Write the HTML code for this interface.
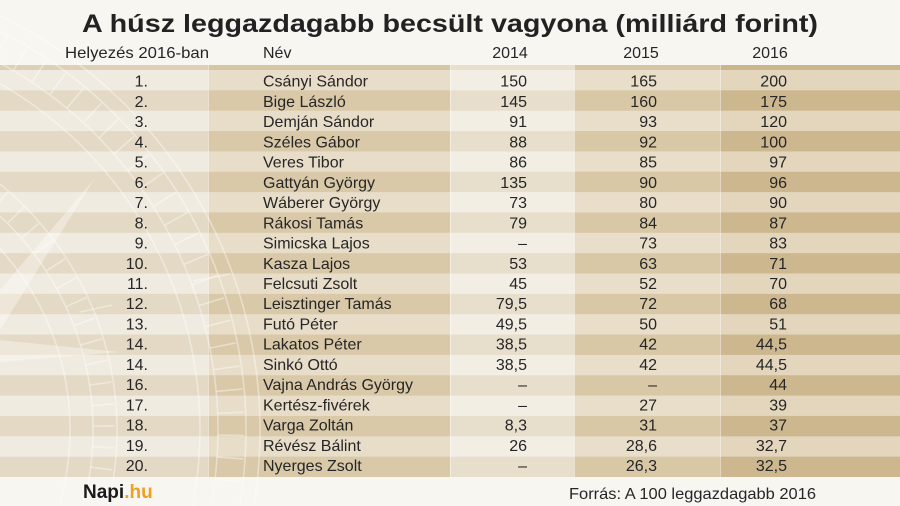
<!DOCTYPE html>
<html><head><meta charset="utf-8"><style>
html,body{margin:0;padding:0;background:#f7f6f1;width:900px;height:506px;overflow:hidden;}
svg{display:block;overflow:hidden;}
text{font-family:"Liberation Sans",sans-serif;fill:#262626;}
</style></head><body>
<svg width="900" height="506" viewBox="0 0 900 506" xmlns="http://www.w3.org/2000/svg">
<defs>
<pattern id="p1" patternUnits="userSpaceOnUse" x="0" y="70" width="900" height="40.7"><rect width="900" height="20.35" fill="#f0ebe0"/><rect y="20.35" width="900" height="20.35" fill="#e3d9c5"/></pattern>
<pattern id="p2" patternUnits="userSpaceOnUse" x="0" y="70" width="900" height="40.7"><rect width="900" height="20.35" fill="#e8ddc9"/><rect y="20.35" width="900" height="20.35" fill="#d9c9a8"/></pattern>
<pattern id="p3" patternUnits="userSpaceOnUse" x="0" y="70" width="900" height="40.7"><rect width="900" height="20.35" fill="#f3eee4"/><rect y="20.35" width="900" height="20.35" fill="#e7decc"/></pattern>
<pattern id="p4" patternUnits="userSpaceOnUse" x="0" y="70" width="900" height="40.7"><rect width="900" height="20.35" fill="#e9deca"/><rect y="20.35" width="900" height="20.35" fill="#d8c8a6"/></pattern>
<pattern id="p5" patternUnits="userSpaceOnUse" x="0" y="70" width="900" height="40.7"><rect width="900" height="20.35" fill="#e3d6bd"/><rect y="20.35" width="900" height="20.35" fill="#ccb78f"/></pattern>
</defs>
<rect x="0" y="0" width="900" height="506" fill="#f7f6f1"/>
<!-- top strip -->
<rect x="0" y="65" width="208" height="5" fill="#ddd0b6"/>
<rect x="208" y="65" width="242" height="5" fill="#d5c6a4"/>
<rect x="450" y="65" width="124" height="5" fill="#e8dfcd"/>
<rect x="574" y="65" width="146" height="5" fill="#d5c5a3"/>
<rect x="720" y="65" width="180" height="5" fill="#cab58d"/>
<!-- row bands -->
<rect x="0" y="70" width="208" height="407" fill="url(#p1)"/>
<rect x="208" y="70" width="242" height="407" fill="url(#p2)"/>
<rect x="450" y="70" width="124" height="407" fill="url(#p3)"/>
<rect x="574" y="70" width="146" height="407" fill="url(#p4)"/>
<rect x="720" y="70" width="180" height="407" fill="url(#p5)"/>
<!-- column separators -->
<g stroke="#ffffff" stroke-opacity="0.45" stroke-width="1">
<line x1="208.5" y1="65" x2="208.5" y2="477"/>
<line x1="450.5" y1="65" x2="450.5" y2="477"/>
<line x1="574.5" y1="65" x2="574.5" y2="477"/>
<line x1="720.5" y1="65" x2="720.5" y2="477"/>
</g>
<!-- compass watermark (arcs clipped to frame) -->
<g fill="none" stroke="#ffffff" stroke-opacity="0.4" stroke-width="1.6">
<path d="M0,15.8 A460,460 0 0 1 253.7,506"/>
<path d="M0,31.4 A446,446 0 0 1 239.5,506"/>
<path d="M0,63 A418,418 0 0 1 211,506"/>
<path d="M0,83.6 A400,400 0 0 1 192.7,506"/>
<path d="M0,184.1 A317,317 0 0 1 107.8,506"/>
<path d="M0,215.9 A293,293 0 0 1 83,506"/>
<path d="M0,248.6 A270,270 0 0 1 59.1,506"/>
<path d="M0,47.1 A432,432 0 0 1 225.3,500" stroke-width="26" stroke-dasharray="1.6 21"/>
<path d="M0,199.7 A305,305 0 0 1 95.4,500" stroke-width="22" stroke-dasharray="1.6 19.7"/>
</g>
<g fill="#ffffff" fill-opacity="0.35">
<polygon points="0,290 95,178 0,330"/>
<polygon points="0,340 120,352 0,362"/>
</g>
<g stroke="#ffffff" stroke-opacity="0.4" stroke-width="1.6">
<line x1="80" y1="312" x2="112" y2="305"/>
<line x1="193" y1="281" x2="230" y2="274"/>
</g>
<!-- title -->
<text x="450" y="32" text-anchor="middle" font-size="25" font-weight="bold" textLength="736" lengthAdjust="spacingAndGlyphs" style="fill:#222">A húsz leggazdagabb becsült vagyona (milliárd forint)</text>
<!-- header -->
<g font-size="16">
<text x="65" y="58" textLength="144" lengthAdjust="spacingAndGlyphs">Helyezés 2016-ban</text>
<text x="263" y="58">Név</text>
<text x="510" y="58" text-anchor="middle">2014</text>
<text x="641" y="58" text-anchor="middle">2015</text>
<text x="770" y="58" text-anchor="middle">2016</text>
</g>
<!-- rank column -->
<g font-size="16" text-anchor="end">
<text x="148" y="86.7">1.</text>
<text x="148" y="106.9">2.</text>
<text x="148" y="127.2">3.</text>
<text x="148" y="147.4">4.</text>
<text x="148" y="167.6">5.</text>
<text x="148" y="187.9">6.</text>
<text x="148" y="208.1">7.</text>
<text x="148" y="228.3">8.</text>
<text x="148" y="248.5">9.</text>
<text x="148" y="268.8">10.</text>
<text x="148" y="289.0">11.</text>
<text x="148" y="309.2">12.</text>
<text x="148" y="329.5">13.</text>
<text x="148" y="349.7">14.</text>
<text x="148" y="369.9">14.</text>
<text x="148" y="390.2">16.</text>
<text x="148" y="410.4">17.</text>
<text x="148" y="430.6">18.</text>
<text x="148" y="450.8">19.</text>
<text x="148" y="471.1">20.</text>
</g>
<!-- names -->
<g font-size="16">
<text x="263" y="86.7">Csányi Sándor</text>
<text x="263" y="106.9">Bige László</text>
<text x="263" y="127.2">Demján Sándor</text>
<text x="263" y="147.4">Széles Gábor</text>
<text x="263" y="167.6">Veres Tibor</text>
<text x="263" y="187.9">Gattyán György</text>
<text x="263" y="208.1">Wáberer György</text>
<text x="263" y="228.3">Rákosi Tamás</text>
<text x="263" y="248.5">Simicska Lajos</text>
<text x="263" y="268.8">Kasza Lajos</text>
<text x="263" y="289.0">Felcsuti Zsolt</text>
<text x="263" y="309.2">Leisztinger Tamás</text>
<text x="263" y="329.5">Futó Péter</text>
<text x="263" y="349.7">Lakatos Péter</text>
<text x="263" y="369.9">Sinkó Ottó</text>
<text x="263" y="390.2">Vajna András György</text>
<text x="263" y="410.4">Kertész-fivérek</text>
<text x="263" y="430.6">Varga Zoltán</text>
<text x="263" y="450.8">Révész Bálint</text>
<text x="263" y="471.1">Nyerges Zsolt</text>
</g>
<!-- 2014 -->
<g font-size="16" text-anchor="end">
<text x="527" y="86.7">150</text>
<text x="527" y="106.9">145</text>
<text x="527" y="127.2">91</text>
<text x="527" y="147.4">88</text>
<text x="527" y="167.6">86</text>
<text x="527" y="187.9">135</text>
<text x="527" y="208.1">73</text>
<text x="527" y="228.3">79</text>
<text x="527" y="248.5">–</text>
<text x="527" y="268.8">53</text>
<text x="527" y="289.0">45</text>
<text x="527" y="309.2">79,5</text>
<text x="527" y="329.5">49,5</text>
<text x="527" y="349.7">38,5</text>
<text x="527" y="369.9">38,5</text>
<text x="527" y="390.2">–</text>
<text x="527" y="410.4">–</text>
<text x="527" y="430.6">8,3</text>
<text x="527" y="450.8">26</text>
<text x="527" y="471.1">–</text>
</g>
<!-- 2015 -->
<g font-size="16" text-anchor="end">
<text x="657" y="86.7">165</text>
<text x="657" y="106.9">160</text>
<text x="657" y="127.2">93</text>
<text x="657" y="147.4">92</text>
<text x="657" y="167.6">85</text>
<text x="657" y="187.9">90</text>
<text x="657" y="208.1">80</text>
<text x="657" y="228.3">84</text>
<text x="657" y="248.5">73</text>
<text x="657" y="268.8">63</text>
<text x="657" y="289.0">52</text>
<text x="657" y="309.2">72</text>
<text x="657" y="329.5">50</text>
<text x="657" y="349.7">42</text>
<text x="657" y="369.9">42</text>
<text x="657" y="390.2">–</text>
<text x="657" y="410.4">27</text>
<text x="657" y="430.6">31</text>
<text x="657" y="450.8">28,6</text>
<text x="657" y="471.1">26,3</text>
</g>
<!-- 2016 -->
<g font-size="16" text-anchor="end">
<text x="787" y="86.7">200</text>
<text x="787" y="106.9">175</text>
<text x="787" y="127.2">120</text>
<text x="787" y="147.4">100</text>
<text x="787" y="167.6">97</text>
<text x="787" y="187.9">96</text>
<text x="787" y="208.1">90</text>
<text x="787" y="228.3">87</text>
<text x="787" y="248.5">83</text>
<text x="787" y="268.8">71</text>
<text x="787" y="289.0">70</text>
<text x="787" y="309.2">68</text>
<text x="787" y="329.5">51</text>
<text x="787" y="349.7">44,5</text>
<text x="787" y="369.9">44,5</text>
<text x="787" y="390.2">44</text>
<text x="787" y="410.4">39</text>
<text x="787" y="430.6">37</text>
<text x="787" y="450.8">32,7</text>
<text x="787" y="471.1">32,5</text>
</g>
<!-- footer -->
<text x="83" y="498" font-size="19" font-weight="bold" style="fill:#1a1a1a">Napi<tspan style="fill:#f0a020">.hu</tspan></text>
<text x="816" y="499" font-size="16" text-anchor="end" textLength="247" lengthAdjust="spacingAndGlyphs">Forrás: A 100 leggazdagabb 2016</text>
</svg>
</body></html>
